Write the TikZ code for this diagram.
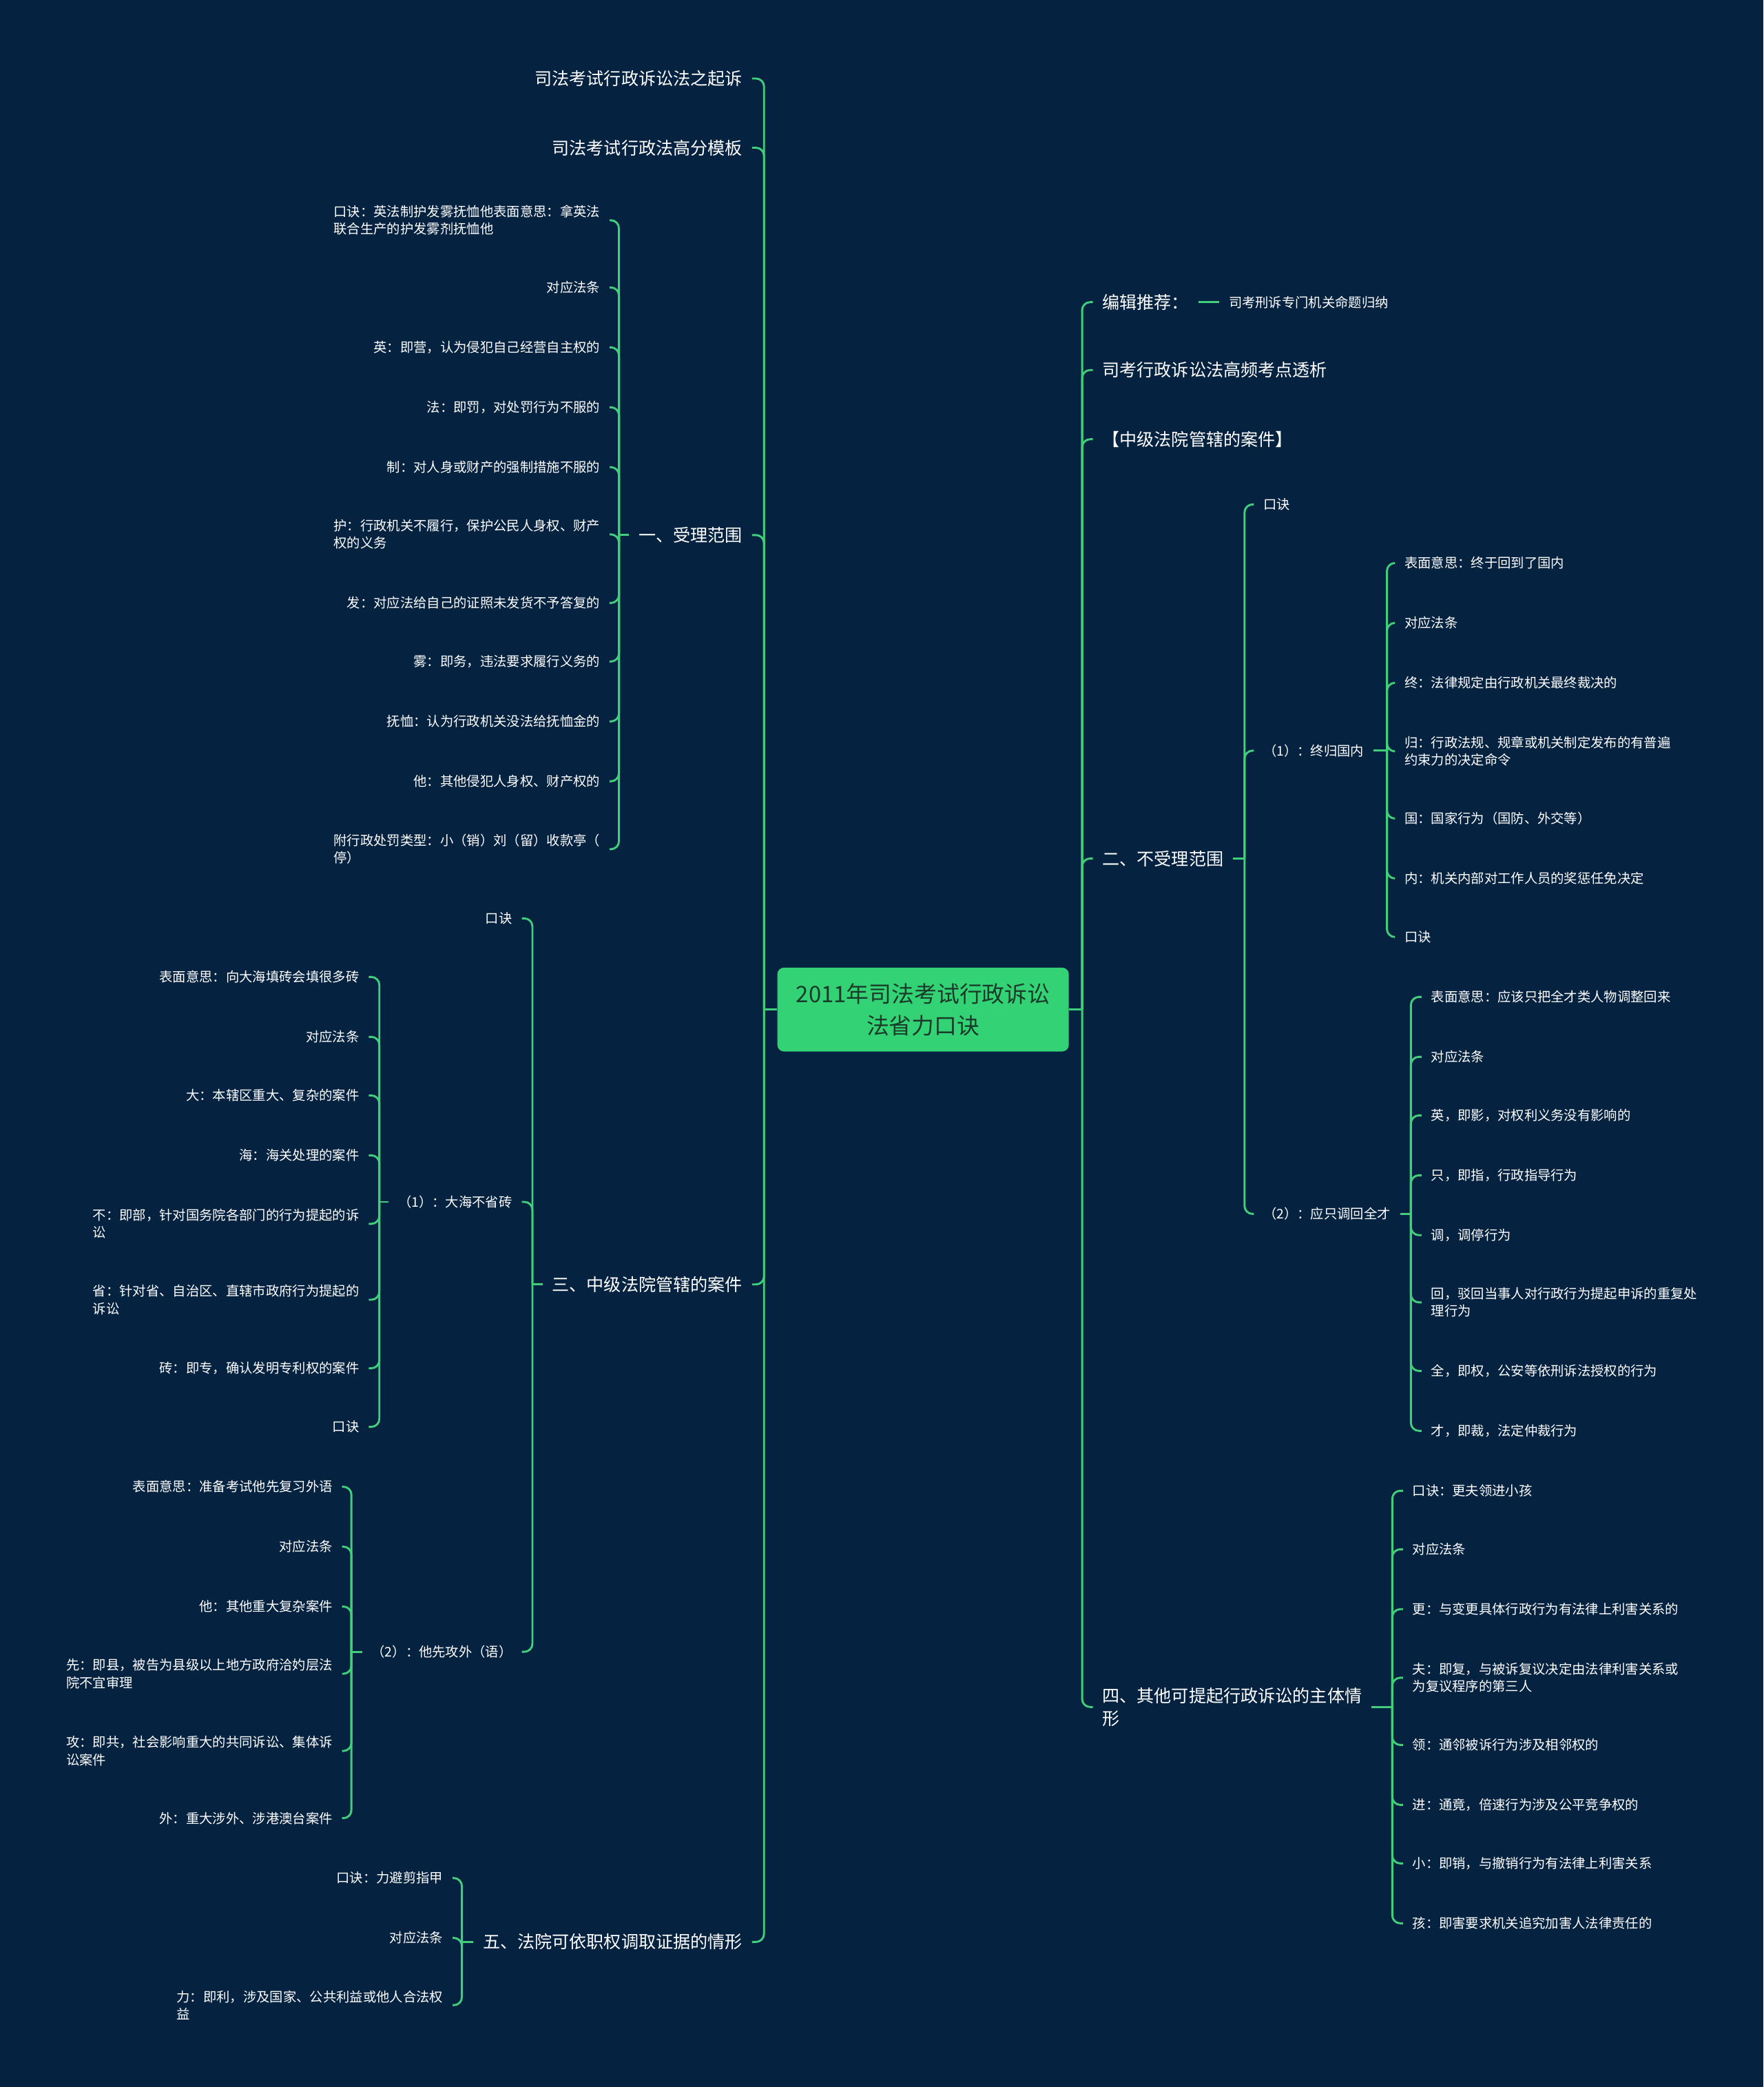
\documentclass[tikz,border=0pt]{standalone}
\usepackage{fontspec}
\setmainfont{Noto Sans CJK SC}
\definecolor{bgc}{HTML}{052240}
\definecolor{lg}{HTML}{42CF7C}
\definecolor{cfill}{HTML}{33D375}
\definecolor{ctext}{HTML}{1A3A2A}
\begin{document}
\begin{tikzpicture}[x=1pt,y=-1pt,
 every node/.style={text=white},
 smt/.style={font=\fontsize{10}{13}\selectfont, align=left, inner xsep=7pt, inner ysep=1pt},
 bigt/.style={font=\fontsize{13}{17}\selectfont, align=left, inner xsep=7pt, inner ysep=1pt},
 le/.style={anchor=east}, ri/.style={anchor=west},
 conn/.style={draw=lg, line width=1.5pt, rounded corners=6pt},
]
\useasboundingbox (0,0) rectangle (1325,1568);
\fill[bgc] (0,0) rectangle (1325,1568);

% root
\node[fill=cfill, rounded corners=5pt, minimum width=219pt, minimum height=63pt, align=center, text=ctext, font=\fontsize{17}{24}\selectfont] (root) at (693.5,758.5) {2011年司法考试行政诉讼\\法省力口诀};
\coordinate (tL) at (574,758.5);
\coordinate (tR) at (813,758.5);
\draw[conn] (root.west) -- (tL);
\draw[conn] (root.east) -- (tR);

% left level 1
\node[bigt,le] (a1) at (565,59) {司法考试行政诉讼法之起诉};
\node[bigt,le] (a2) at (565,111) {司法考试行政法高分模板};
\node[bigt,le] (a3) at (565,402) {一、受理范围};
\node[bigt,le] (a4) at (565,965) {三、中级法院管辖的案件};
\node[bigt,le] (a5) at (565,1459) {五、法院可依职权调取证据的情形};
\foreach \n in {a1,a2,a3,a4,a5} \draw[conn] (tL) |- (\n.east);

% section 1
\coordinate (j1) at (465,402);
\draw[conn] (a3.west) -- (j1);
\node[smt,le] (b1) at (458,165.5) {口诀：英法制护发雾抚恤他表面意思：拿英法\\联合生产的护发雾剂抚恤他};
\node[smt,le] (b2) at (458,216) {对应法条};
\node[smt,le] (b3) at (458,261) {英：即营，认为侵犯自己经营自主权的};
\node[smt,le] (b4) at (458,306) {法：即罚，对处罚行为不服的};
\node[smt,le] (b5) at (458,351) {制：对人身或财产的强制措施不服的};
\node[smt,le] (b6) at (458,401.5) {护：行政机关不履行，保护公民人身权、财产\\权的义务};
\node[smt,le] (b7) at (458,453) {发：对应法给自己的证照未发货不予答复的};
\node[smt,le] (b8) at (458,497) {雾：即务，违法要求履行义务的};
\node[smt,le] (b9) at (458,542) {抚恤：认为行政机关没法给抚恤金的};
\node[smt,le] (b10) at (458,587) {他：其他侵犯人身权、财产权的};
\node[smt,le] (b11) at (458,638) {附行政处罚类型：小（销）刘（留）收款亭（\\停）};
\foreach \n in {b1,b2,b3,b4,b5,b6,b7,b8,b9,b10,b11} \draw[conn] (j1) |- (\n.east);

% section 3
\coordinate (j3) at (400,965);
\draw[conn] (a4.west) -- (j3);
\node[smt,le] (c1) at (392,690) {口诀};
\node[smt,le] (c2) at (392,903) {（1）：大海不省砖};
\node[smt,le] (c3) at (392,1241) {（2）：他先攻外（语）};
\foreach \n in {c1,c2,c3} \draw[conn] (j3) |- (\n.east);

\coordinate (j31) at (285,903);
\draw[conn] (c2.west) -- (j31);
\node[smt,le] (d1) at (277,734) {表面意思：向大海填砖会填很多砖};
\node[smt,le] (d2) at (277,779) {对应法条};
\node[smt,le] (d3) at (277,823) {大：本辖区重大、复杂的案件};
\node[smt,le] (d4) at (277,868) {海：海关处理的案件};
\node[smt,le] (d5) at (277,919.5) {不：即部，针对国务院各部门的行为提起的诉\\讼};
\node[smt,le] (d6) at (277,976.5) {省：针对省、自治区、直辖市政府行为提起的\\诉讼};
\node[smt,le] (d7) at (277,1028) {砖：即专，确认发明专利权的案件};
\node[smt,le] (d8) at (277,1072) {口诀};
\foreach \n in {d1,d2,d3,d4,d5,d6,d7,d8} \draw[conn] (j31) |- (\n.east);

\coordinate (j32) at (264,1241);
\draw[conn] (c3.west) -- (j32);
\node[smt,le] (e1) at (257,1117) {表面意思：准备考试他先复习外语};
\node[smt,le] (e2) at (257,1162) {对应法条};
\node[smt,le] (e3) at (257,1207) {他：其他重大复杂案件};
\node[smt,le] (e4) at (257,1257.5) {先：即县，被告为县级以上地方政府洽妁层法\\院不宜审理};
\node[smt,le] (e5) at (257,1315.5) {攻：即共，社会影响重大的共同诉讼、集体诉\\讼案件};
\node[smt,le] (e6) at (257,1366) {外：重大涉外、涉港澳台案件};
\foreach \n in {e1,e2,e3,e4,e5,e6} \draw[conn] (j32) |- (\n.east);

% section 5
\coordinate (j5) at (347,1459);
\draw[conn] (a5.west) -- (j5);
\node[smt,le] (f1) at (340,1411) {口诀：力避剪指甲};
\node[smt,le] (f2) at (340,1456) {对应法条};
\node[smt,le] (f3) at (340,1506.5) {力：即利，涉及国家、公共利益或他人合法权\\益};
\foreach \n in {f1,f2,f3} \draw[conn] (j5) |- (\n.east);

% right level 1
\node[bigt,ri] (r1) at (821,227) {编辑推荐：};
\node[smt,ri] (r1a) at (916,227) {司考刑诉专门机关命题归纳};
\node[bigt,ri] (r2) at (821,278) {司考行政诉讼法高频考点透析};
\node[bigt,ri] (r3) at (821,330) {【中级法院管辖的案件】};
\node[bigt,ri] (r4) at (821,645) {二、不受理范围};
\node[bigt,ri] (r5) at (821,1282.5) {四、其他可提起行政诉讼的主体情\\形};
\foreach \n in {r1,r2,r3,r4,r5} \draw[conn] (tR) |- (\n.west);
\draw[conn] (r1.east) -- (r1a.west);

% section 2
\coordinate (k2) at (935,645);
\draw[conn] (r4.east) -- (k2);
\node[smt,ri] (g1) at (942,379) {口诀};
\node[smt,ri] (g2) at (942,564) {（1）：终归国内};
\node[smt,ri] (g3) at (942,912) {（2）：应只调回全才};
\foreach \n in {g1,g2,g3} \draw[conn] (k2) |- (\n.west);

\coordinate (k21) at (1042,564);
\draw[conn] (g2.east) -- (k21);
\node[smt,ri] (h1) at (1048,423) {表面意思：终于回到了国内};
\node[smt,ri] (h2) at (1048,468) {对应法条};
\node[smt,ri] (h3) at (1048,513) {终：法律规定由行政机关最终裁决的};
\node[smt,ri] (h4) at (1048,564.5) {归：行政法规、规章或机关制定发布的有普遍\\约束力的决定命令};
\node[smt,ri] (h5) at (1048,615) {国：国家行为（国防、外交等）};
\node[smt,ri] (h6) at (1048,660) {内：机关内部对工作人员的奖惩任免决定};
\node[smt,ri] (h7) at (1048,704) {口诀};
\foreach \n in {h1,h2,h3,h4,h5,h6,h7} \draw[conn] (k21) |- (\n.west);

\coordinate (k22) at (1060,912);
\draw[conn] (g3.east) -- (k22);
\node[smt,ri] (m1) at (1068,749) {表面意思：应该只把全才类人物调整回来};
\node[smt,ri] (m2) at (1068,794) {对应法条};
\node[smt,ri] (m3) at (1068,838) {英，即影，对权利义务没有影响的};
\node[smt,ri] (m4) at (1068,883) {只，即指，行政指导行为};
\node[smt,ri] (m5) at (1068,928) {调，调停行为};
\node[smt,ri] (m6) at (1068,978.5) {回，驳回当事人对行政行为提起申诉的重复处\\理行为};
\node[smt,ri] (m7) at (1068,1030) {全，即权，公安等依刑诉法授权的行为};
\node[smt,ri] (m8) at (1068,1075) {才，即裁，法定仲裁行为};
\foreach \n in {m1,m2,m3,m4,m5,m6,m7,m8} \draw[conn] (k22) |- (\n.west);

% section 4
\coordinate (k4) at (1046,1282.5);
\draw[conn] (r5.east) -- (k4);
\node[smt,ri] (n1) at (1054,1120) {口诀：更夫领进小孩};
\node[smt,ri] (n2) at (1054,1164) {对应法条};
\node[smt,ri] (n3) at (1054,1209) {更：与变更具体行政行为有法律上利害关系的};
\node[smt,ri] (n4) at (1054,1260.5) {夫：即复，与被诉复议决定由法律利害关系或\\为复议程序的第三人};
\node[smt,ri] (n5) at (1054,1311) {领：通邻被诉行为涉及相邻权的};
\node[smt,ri] (n6) at (1054,1356) {进：通竟，倍速行为涉及公平竞争权的};
\node[smt,ri] (n7) at (1054,1400) {小：即销，与撤销行为有法律上利害关系};
\node[smt,ri] (n8) at (1054,1445) {孩：即害要求机关追究加害人法律责任的};
\foreach \n in {n1,n2,n3,n4,n5,n6,n7,n8} \draw[conn] (k4) |- (\n.west);
\end{tikzpicture}
\end{document}
